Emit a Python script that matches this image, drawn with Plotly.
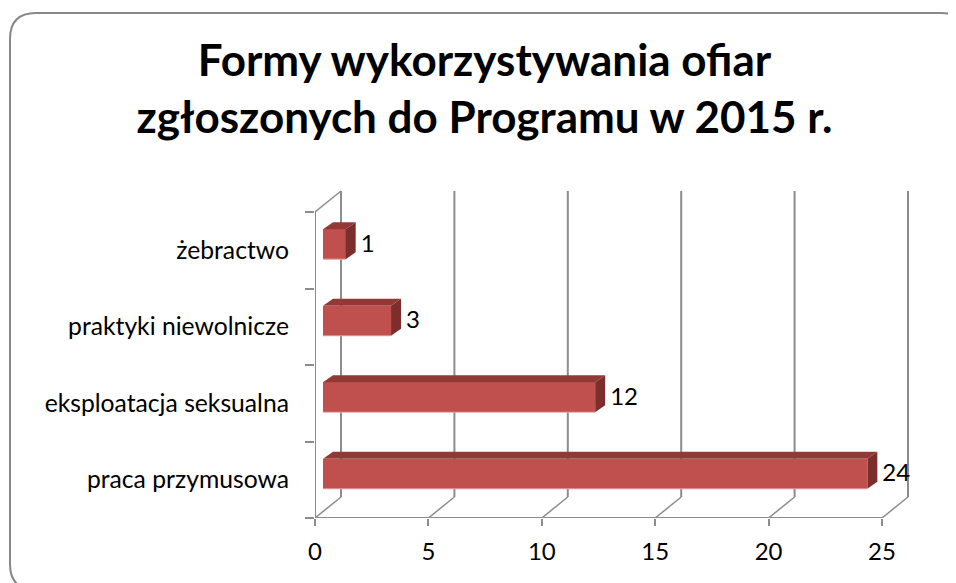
import plotly.graph_objects as go

# ---- data ----
categories = ["praca przymusowa", "eksploatacja seksualna", "praktyki niewolnicze", "żebractwo"]
values = [24, 12, 3, 1]
x_ticks = [0, 5, 10, 15, 20, 25]
title_text = "Formy wykorzystywania ofiar<br>zgłoszonych do Programu w 2015 r."

# ---- geometry / styling (page pixel coordinates, body margin 8px) ----
OFF = 8
W, H = 956 - OFF, 583 - OFF
PL, PR, PT, PB = 315, 915, 188, 518      # plot area on page
L, R, T, B = PL - OFF, W - (PR - OFF), PT - OFF, H - (PB - OFF)
PXX, PXY = 22.68, 76.5
XMAX = (PR - PL) / PXX
YMIN = -0.5
YMAX = YMIN + (PB - PT) / PXY
DX, DY = 26 / PXX, 21 / PXY          # wall depth
BX0, BY0 = 8 / PXX, 6 / PXY          # bar front offset
BDX, BDY = 10 / PXX, 7 / PXY         # bar depth
BH = 15 / PXY                        # bar half height
LBL_GAP = 5 / PXX
ytop = len(categories) - 0.5

FRONT = "#C0504D"
TOP = "#923836"
SIDE = "#7B2E2C"
GRID = "#8C8C8C"
FONT = "Lato"

ypos = list(range(len(categories)))

fig = go.Figure()

# front faces
fig.add_trace(go.Bar(
    orientation="h", y=[y + BY0 for y in ypos], x=values, base=BX0,
    width=2 * BH, marker=dict(color=FRONT, line=dict(width=0)),
    hoverinfo="skip", showlegend=False))

# top and side faces + bottom highlight
for y, v in zip(ypos, values):
    yc = y + BY0
    xs = [BX0, BX0 + v, BX0 + v + BDX, BX0 + BDX, BX0]
    ys = [yc + BH, yc + BH, yc + BH + BDY, yc + BH + BDY, yc + BH]
    fig.add_trace(go.Scatter(x=xs, y=ys, fill="toself", fillcolor=TOP, mode="lines",
                             line=dict(width=0, color=TOP), hoverinfo="skip", showlegend=False))
    xs = [BX0 + v, BX0 + v + BDX, BX0 + v + BDX, BX0 + v, BX0 + v]
    ys = [yc - BH, yc - BH + BDY, yc + BH + BDY, yc + BH, yc - BH]
    fig.add_trace(go.Scatter(x=xs, y=ys, fill="toself", fillcolor=SIDE, mode="lines",
                             line=dict(width=0, color=SIDE), hoverinfo="skip", showlegend=False))
    fig.add_trace(go.Scatter(x=[BX0, BX0 + v], y=[yc - BH, yc - BH], mode="lines",
                             line=dict(width=1.2, color="#E2A3A1"), hoverinfo="skip", showlegend=False))

# data labels
fig.add_trace(go.Scatter(
    x=[BX0 + v + BDX + LBL_GAP for v in values], y=[y + BY0 - 0.02 for y in ypos],
    text=[str(v) for v in values], mode="text", textposition="middle right",
    textfont=dict(family=FONT, size=24, color="#000000"),
    hoverinfo="skip", showlegend=False))

shapes = []
def line(x0, y0, x1, y1, w=2):
    shapes.append(dict(type="line", xref="x", yref="y", x0=x0, y0=y0, x1=x1, y1=y1,
                       line=dict(color=GRID, width=w), layer="below"))

for t in x_ticks:
    line(t + DX, YMIN + DY, t + DX, ytop + DY)     # back wall gridline
    line(t, YMIN, t + DX, YMIN + DY, 1.5)           # floor diagonal
line(0, YMIN, x_ticks[-1], YMIN)                    # front floor edge
line(0, YMIN, 0, ytop)                              # front left edge
line(0, ytop, DX, ytop + DY, 1.5)                   # top-left diagonal

# rounded chart border (page pixel coords -> paper)
def px(xp):
    return (xp - PL) / (PR - PL)
def py(yp):
    return (PB - yp) / (PB - PT)
x0b, y0b, x1b, y1b, r = 10, 13, 968, 590, 26
path = (f"M {px(x0b + r)},{py(y0b)} L {px(x1b - r)},{py(y0b)} "
        f"Q {px(x1b)},{py(y0b)} {px(x1b)},{py(y0b + r)} L {px(x1b)},{py(y1b - r)} "
        f"Q {px(x1b)},{py(y1b)} {px(x1b - r)},{py(y1b)} L {px(x0b + r)},{py(y1b)} "
        f"Q {px(x0b)},{py(y1b)} {px(x0b)},{py(y1b - r)} L {px(x0b)},{py(y0b + r)} "
        f"Q {px(x0b)},{py(y0b)} {px(x0b + r)},{py(y0b)} Z")
shapes.append(dict(type="path", xref="paper", yref="paper", path=path,
                   line=dict(color="#888888", width=2), layer="below"))

fig.update_layout(
    width=W, height=H, autosize=False,
    margin=dict(l=L, r=R, t=T, b=B),
    paper_bgcolor="white", plot_bgcolor="white",
    title=dict(text=title_text, x=(484.5 - OFF) / W, xref="container", xanchor="center",
               y=1 - (76 - OFF) / H, yref="container", yanchor="top",
               font=dict(family=FONT, size=44, color="#000000", weight="bold")),
    shapes=shapes,
    bargap=0,
    xaxis=dict(range=[0, XMAX], tickvals=x_ticks, ticktext=[str(t) for t in x_ticks],
               ticks="outside", ticklen=7, tickwidth=2, tickcolor=GRID,
               showgrid=False, zeroline=False, showline=False,
               tickfont=dict(family=FONT, size=24, color="#000000"),
               ticklabelstandoff=5, fixedrange=True),
    yaxis=dict(range=[YMIN, YMAX], tickvals=ypos, ticktext=categories,
               ticks="", showgrid=False, zeroline=False, showline=False,
               tickfont=dict(family=FONT, size=24.7, color="#000000"),
               ticklabelstandoff=25,
               minor=dict(tickvals=[i - 0.5 for i in range(len(categories) + 1)],
                          ticks="outside", ticklen=9, tickwidth=2, tickcolor=GRID, showgrid=False),
               fixedrange=True),
)

fig.write_html("out.html")
